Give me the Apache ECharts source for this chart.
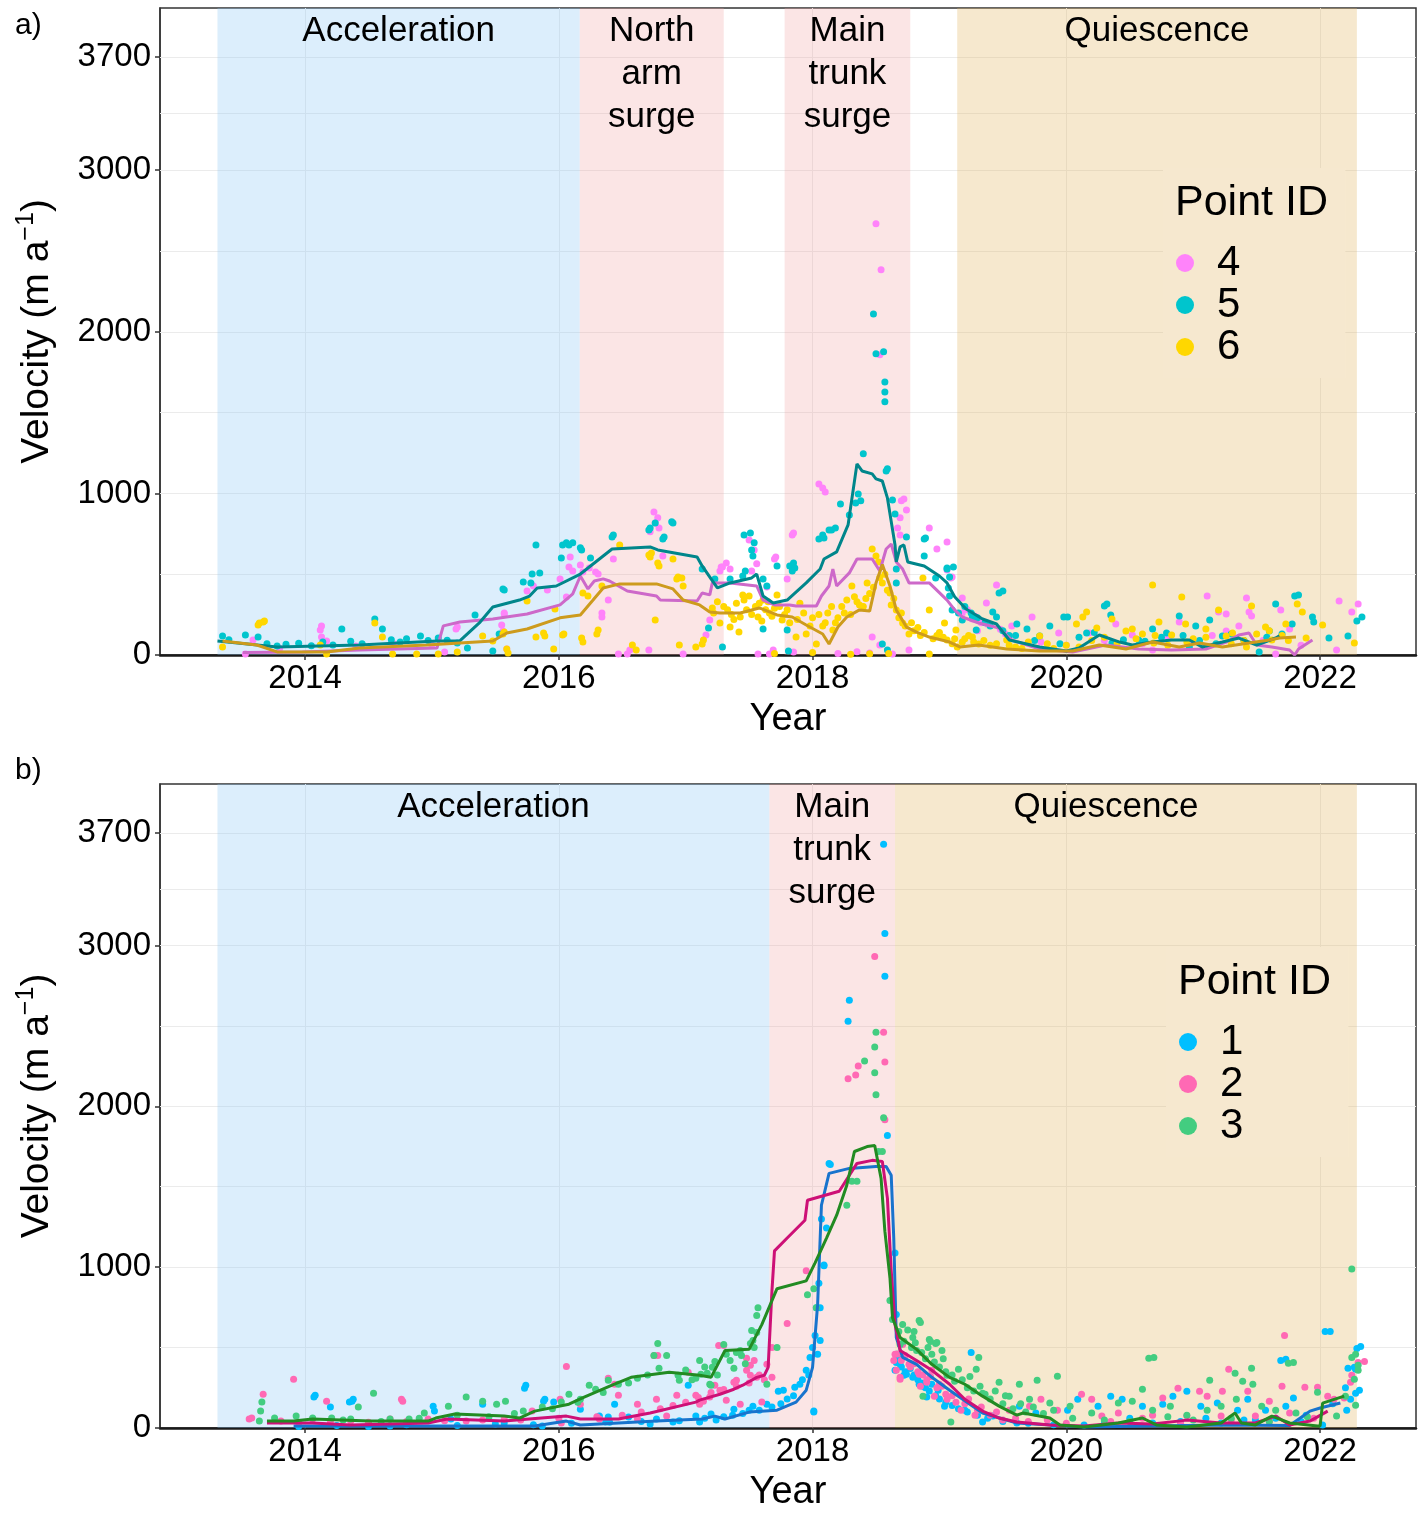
<!DOCTYPE html>
<html><head><meta charset="utf-8">
<script src="https://cdn.jsdelivr.net/npm/echarts@6/dist/echarts.min.js"></script>
<style>html,body{margin:0;padding:0;background:#fff}#c{width:1424px;height:1513px}</style>
</head><body><div id="c"></div>
<script>
// ---------- axes ----------
const X_MIN = 2012.857, X_MAX = 2022.756;
const Y_MIN = 0, Y_MAX = 4004;
const yearLabels = [2014, 2016, 2018, 2020, 2022];
const yTickLabels = [0, 1000, 2000, 3000, 3700];
const yGridValues = [500, 1000, 1500, 2000, 2500, 3000, 3350, 3700];

// ---------- phases ----------
const phaseNamesA = ['Acceleration', 'North\narm\nsurge', 'Main\ntrunk\nsurge', 'Quiescence'];
const phaseStartA = [2013.31, 2016.165, 2017.78, 2019.14];
const phaseEndA = [2016.165, 2017.30, 2018.77, 2022.29];
const phaseTypeA = ['acc', 'surge', 'surge', 'quiet'];
const phaseNamesB = ['Acceleration', 'Main\ntrunk\nsurge', 'Quiescence'];
const phaseStartB = [2013.31, 2017.66, 2018.65];
const phaseEndB = [2017.66, 2018.65, 2022.29];
const phaseTypeB = ['acc', 'surge', 'quiet'];

// ---------- panel a: point IDs 4, 5, 6 ----------
const pts4 = [[2013.53,6],[2013.59,93],[2014.12,155],[2014.13,180],[2014.13,111],[2014.17,87],[2015.10,19],[2015.19,161],[2015.20,173],[2015.56,149],[2015.57,254],[2015.57,260],[2015.55,186],[2015.59,37],[2015.75,396],[2015.80,427],[2016.01,471],[2015.91,402],[2016.06,359],[2016.08,545],[2016.09,607],[2016.11,520],[2016.17,557],[2016.19,514],[2016.24,539],[2016.31,501],[2016.29,514],[2016.34,260],[2016.34,235],[2016.39,340],[2016.43,594],[2016.47,6],[2016.54,6],[2016.56,31],[2016.71,31],[2016.72,762],[2016.75,885],[2016.76,817],[2016.78,849],[2016.79,786],[2016.82,613],[2016.98,6],[2017.16,124],[2017.19,217],[2017.27,520],[2017.28,545],[2017.29,545],[2017.32,570],[2017.35,532],[2017.50,712],[2017.52,520],[2017.54,650],[2017.56,564],[2017.57,6],[2017.64,421],[2017.66,6],[2017.69,31],[2017.71,607],[2017.70,594],[2017.80,471],[2017.84,743],[2017.85,755],[2017.85,19],[2018.05,1059],[2018.08,1034],[2018.10,1009],[2018.47,111],[2018.50,2669],[2018.53,1858],[2018.53,62],[2018.54,2384],[2018.63,6],[2018.67,786],[2018.69,849],[2018.69,743],[2018.70,954],[2018.72,966],[2018.74,898],[2018.76,31],[2018.92,786],[2018.98,656],[2019.06,700],[2019.06,526],[2019.09,477],[2019.10,483],[2019.18,353],[2019.18,260],[2019.26,223],[2019.26,235],[2019.37,322],[2019.45,433],[2019.57,180],[2019.73,235],[2019.94,136],[2020.18,136],[2020.39,192],[2020.52,124],[2020.68,31],[2020.89,204],[2021.11,365],[2021.20,266],[2021.26,254],[2021.26,149],[2021.36,180],[2021.42,353],[2021.44,266],[2021.46,241],[2021.65,6],[2021.69,279],[2021.76,161],[2022.13,31],[2022.15,334],[2022.25,266],[2022.30,316],[2019.30,150],[2019.55,110],[2019.80,80],[2020.00,60],[2020.30,90],[2020.60,70],[2020.80,110],[2021.00,90],[2021.15,120],[2021.55,90],[2021.85,60],[2013.80,40],[2014.40,55],[2014.70,70],[2015.00,60],[2018.20,10],[2018.35,20],[2018.45,12],[2019.22,280],[2019.28,240],[2019.33,200],[2019.38,190],[2019.48,160],[2019.52,130]];
const pts5 = [[2013.35,118],[2013.53,124],[2013.63,111],[2013.40,95],[2013.70,70],[2013.78,55],[2013.85,66],[2013.95,72],[2014.05,58],[2014.14,80],[2014.22,62],[2014.29,161],[2014.36,85],[2014.45,70],[2014.55,223],[2014.61,161],[2014.68,95],[2014.75,80],[2014.80,100],[2014.91,118],[2014.97,90],[2015.05,105],[2015.12,92],[2015.20,75],[2015.28,43],[2015.34,248],[2015.48,25],[2015.53,130],[2015.56,409],[2015.57,402],[2015.72,452],[2015.78,446],[2015.79,502],[2015.82,681],[2015.85,508],[2016.02,600],[2016.03,681],[2016.06,694],[2016.08,681],[2016.11,694],[2016.17,663],[2016.18,650],[2016.25,600],[2016.42,731],[2016.43,743],[2016.71,774],[2016.72,786],[2016.76,817],[2016.83,731],[2016.82,718],[2016.89,824],[2016.90,817],[2017.13,532],[2017.18,167],[2017.23,471],[2017.29,50],[2017.35,471],[2017.45,489],[2017.47,520],[2017.46,743],[2017.51,755],[2017.52,650],[2017.53,613],[2017.54,694],[2017.61,471],[2017.64,427],[2017.61,161],[2017.72,551],[2017.80,155],[2017.81,25],[2017.82,551],[2017.84,520],[2017.85,570],[2017.86,539],[2018.05,718],[2018.08,743],[2018.09,724],[2018.13,774],[2018.15,774],[2018.18,786],[2018.22,935],[2018.29,867],[2018.34,941],[2018.36,997],[2018.38,954],[2018.40,1245],[2018.48,2110],[2018.50,1864],[2018.56,1876],[2018.57,1690],[2018.57,1628],[2018.57,1567],[2018.58,1139],[2018.59,1152],[2018.63,960],[2018.65,873],[2018.66,532],[2018.66,446],[2018.55,68],[2018.59,31],[2018.74,731],[2018.88,718],[2018.88,613],[2018.89,724],[2018.97,477],[2019.06,532],[2019.06,539],[2019.07,415],[2019.08,483],[2019.08,365],[2019.10,279],[2019.11,545],[2019.15,260],[2019.18,217],[2019.26,235],[2019.29,155],[2019.42,266],[2019.45,235],[2019.47,384],[2019.50,396],[2019.61,192],[2019.69,161],[2019.79,118],[2019.87,180],[2019.98,235],[2020.01,235],[2020.16,136],[2020.30,303],[2020.32,316],[2020.35,248],[2020.36,74],[2020.57,93],[2020.68,161],[2020.79,136],[2020.89,241],[2020.97,50],[2021.02,180],[2021.13,217],[2021.23,118],[2021.52,19],[2021.60,149],[2021.65,316],[2021.78,192],[2021.80,365],[2021.83,372],[2021.94,235],[2021.95,204],[2022.07,105],[2022.22,118],[2022.29,210],[2022.33,235],[2019.60,120],[2019.75,90],[2019.95,70],[2020.10,110],[2020.22,140],[2020.45,95],[2020.62,85],[2020.75,110],[2020.92,120],[2021.05,90],[2021.18,70],[2021.30,130],[2021.40,90],[2021.58,110],[2021.70,130],[2019.20,300],[2019.25,260],[2019.30,230],[2019.36,200],[2019.40,180],[2019.50,150],[2019.55,120]];
const pts6 = [[2013.35,50],[2013.63,186],[2013.67,204],[2013.64,198],[2013.68,210],[2014.12,62],[2014.17,6],[2014.55,198],[2014.61,111],[2014.69,6],[2014.88,6],[2015.05,6],[2015.20,19],[2015.40,118],[2015.48,87],[2015.75,334],[2015.97,285],[2016.04,130],[2015.89,118],[2015.96,37],[2015.59,37],[2015.60,12],[2015.56,130],[2015.57,142],[2015.88,136],[2016.18,105],[2015.82,111],[2016.03,124],[2016.19,80],[2016.30,130],[2016.19,384],[2016.23,365],[2016.34,427],[2016.31,155],[2016.48,681],[2016.58,62],[2016.61,31],[2016.71,619],[2016.73,631],[2016.72,607],[2016.76,217],[2016.78,570],[2016.79,551],[2016.90,594],[2016.93,471],[2016.94,483],[2016.95,62],[2016.97,477],[2016.98,427],[2017.08,50],[2017.14,93],[2017.13,68],[2017.21,291],[2017.22,260],[2017.27,198],[2017.35,173],[2017.42,142],[2017.43,235],[2017.45,372],[2017.46,340],[2017.50,365],[2017.57,235],[2017.61,340],[2017.66,260],[2017.72,372],[2017.76,217],[2017.87,111],[2017.95,130],[2018.03,68],[2018.16,155],[2018.27,340],[2018.31,427],[2018.37,310],[2018.43,446],[2018.47,656],[2018.50,613],[2018.52,576],[2018.55,446],[2018.61,384],[2018.66,279],[2018.71,198],[2018.76,130],[2018.87,477],[2018.92,279],[2018.92,6],[2019.04,198],[2019.13,155],[2019.26,111],[2019.31,68],[2019.06,93],[2019.14,50],[2019.27,80],[2019.53,93],[2019.79,118],[2020.08,192],[2020.13,235],[2020.16,266],[2020.24,167],[2020.36,223],[2020.47,149],[2020.52,161],[2020.68,433],[2020.69,74],[2020.73,204],[2020.83,124],[2020.91,359],[2020.94,192],[2021.10,161],[2021.20,279],[2021.26,118],[2021.31,136],[2021.42,50],[2021.46,303],[2021.57,173],[2021.62,93],[2021.73,192],[2021.82,316],[2021.86,266],[2021.89,105],[2022.02,186],[2022.27,74],[2017.30,300],[2017.36,250],[2017.40,320],[2017.48,280],[2017.55,300],[2017.60,210],[2017.65,330],[2017.70,290],[2017.78,250],[2017.82,200],[2017.90,320],[2017.98,180],[2018.05,250],[2018.10,200],[2018.15,300],[2018.20,230],[2018.25,260],[2018.33,360],[2018.40,300],[2018.45,380],[2018.57,500],[2018.62,310],[2018.68,230],[2018.73,180],[2018.80,150],[2018.85,120],[2018.95,100],[2019.00,140],[2019.10,70],[2019.20,100],[2019.40,60],[2019.60,50],[2019.70,80],[2019.90,40],[2020.00,60],[2020.30,110],[2020.60,130],[2020.80,60],[2021.00,100],[2021.40,90],[2021.70,120],[2017.70,10],[2018.00,15],[2018.30,5],[2018.45,8],[2018.60,10],[2017.25,330],[2017.33,280],[2017.38,220],[2017.52,250],[2017.58,320],[2017.63,280],[2017.68,240],[2017.74,300],[2017.80,280],[2017.88,220],[2017.93,260],[2018.00,230],[2018.08,180],[2018.12,260],[2018.18,200],[2018.23,300],[2018.30,250],[2018.35,330],[2018.42,350],[2018.48,420],[2018.53,480],[2018.59,400],[2018.64,350],[2018.70,260],[2018.78,200],[2018.83,170],[2018.88,140],[2018.98,120],[2019.03,110],[2019.12,100],[2019.18,80],[2019.23,120],[2019.35,90],[2019.45,70],[2019.55,60],[2019.65,40],[2019.85,70],[2020.10,50],[2020.20,90],[2020.40,70],[2020.55,100],[2020.70,120],[2020.95,80],[2021.10,110],[2021.30,70],[2021.50,130],[2021.60,150],[2021.75,90]];
const line4 = [[2013.51,15],[2013.98,18],[2014.43,31],[2015.04,43],[2015.09,180],[2015.22,204],[2015.48,223],[2015.75,254],[2016.01,310],[2016.11,378],[2016.17,489],[2016.23,409],[2016.28,458],[2016.35,471],[2016.40,458],[2016.54,396],[2016.77,365],[2016.80,340],[2017.09,334],[2017.13,384],[2017.19,372],[2017.21,446],[2017.35,446],[2017.56,427],[2017.61,340],[2017.70,310],[2017.82,310],[2017.87,303],[2018.03,303],[2018.07,365],[2018.13,427],[2018.16,532],[2018.19,427],[2018.29,508],[2018.35,594],[2018.47,594],[2018.53,520],[2018.58,656],[2018.62,687],[2018.66,576],[2018.71,532],[2018.76,446],[2018.92,446],[2019.06,340],[2019.12,279],[2019.18,235],[2019.31,198],[2019.47,167],[2019.57,93],[2019.79,37],[2020.05,19],[2020.31,62],[2020.44,50],[2020.57,37],[2020.83,31],[2021.10,37],[2021.26,80],[2021.36,124],[2021.44,136],[2021.50,62],[2021.62,50],[2021.76,31],[2021.80,0],[2021.83,37],[2021.94,93]];
const line5 = [[2013.31,87],[2013.78,50],[2014.43,62],[2015.04,87],[2015.22,87],[2015.38,204],[2015.48,297],[2015.69,340],[2015.77,365],[2015.83,415],[2015.98,427],[2016.17,501],[2016.30,582],[2016.42,656],[2016.72,669],[2016.78,650],[2017.09,607],[2017.13,551],[2017.20,471],[2017.25,415],[2017.35,446],[2017.52,477],[2017.56,501],[2017.61,365],[2017.69,322],[2017.80,340],[2017.95,446],[2018.06,532],[2018.09,594],[2018.19,638],[2018.28,805],[2018.35,1183],[2018.39,1139],[2018.47,1121],[2018.50,1090],[2018.55,1077],[2018.59,972],[2018.65,681],[2018.66,576],[2018.69,669],[2018.72,681],[2018.75,576],[2018.88,551],[2019.00,489],[2019.06,446],[2019.12,360],[2019.21,285],[2019.34,223],[2019.45,192],[2019.55,93],[2019.79,50],[2020.00,25],[2020.10,43],[2020.26,124],[2020.42,80],[2020.52,62],[2020.68,80],[2020.83,93],[2020.97,93],[2021.07,50],[2021.23,80],[2021.36,105],[2021.50,62],[2021.65,105],[2021.68,118]];
const line6 = [[2013.35,87],[2013.62,62],[2013.78,19],[2014.17,19],[2014.43,43],[2014.96,62],[2015.48,87],[2015.59,136],[2015.75,161],[2016.01,230],[2016.17,248],[2016.27,340],[2016.35,415],[2016.48,440],[2016.77,440],[2016.90,409],[2016.98,340],[2017.11,310],[2017.19,266],[2017.27,260],[2017.43,260],[2017.58,291],[2017.72,248],[2017.84,235],[2017.95,186],[2018.08,130],[2018.13,68],[2018.20,173],[2018.27,235],[2018.37,279],[2018.45,272],[2018.50,446],[2018.55,560],[2018.61,427],[2018.66,279],[2018.74,173],[2018.82,142],[2018.92,111],[2019.08,80],[2019.16,50],[2019.31,62],[2019.53,37],[2019.79,25],[2020.05,25],[2020.26,62],[2020.47,37],[2020.68,80],[2020.89,50],[2021.05,74],[2021.23,50],[2021.44,74],[2021.60,93],[2021.68,105],[2021.81,111]];

// ---------- panel b: point IDs 1, 2, 3 ----------
const pts1 = [[2014.07,192],[2014.20,130],[2014.35,161],[2014.37,167],[2015.01,136],[2015.02,105],[2015.15,56],[2015.40,148],[2015.73,247],[2015.88,167],[2015.96,161],[2016.44,148],[2016.17,117],[2016.32,74],[2016.77,56],[2017.08,74],[2017.20,87],[2017.38,117],[2017.53,136],[2015.57,31],[2014.67,12],[2015.87,12],[2014.08,204],[2014.38,179],[2015.74,266],[2015.89,179],[2017.02,266],[2017.77,235],[2017.73,229],[2016.39,68],[2016.37,37],[2016.55,68],[2016.72,25],[2016.90,37],[2017.11,37],[2017.24,49],[2017.37,80],[2017.50,111],[2017.64,148],[2017.86,254],[2017.90,272],[2017.95,359],[2017.98,439],[2018.02,575],[2018.03,748],[2018.04,458],[2018.06,544],[2018.06,748],[2018.09,1014],[2018.11,1243],[2018.09,1008],[2018.13,1645],[2018.14,1639],[2018.01,99],[2018.01,105],[2018.29,2659],[2018.28,2529],[2018.56,3630],[2018.57,3074],[2018.57,2808],[2018.59,1818],[2018.65,1088],[2018.66,705],[2018.66,458],[2018.69,396],[2018.74,334],[2018.79,315],[2018.84,272],[2018.90,192],[2018.94,272],[2018.99,235],[2018.66,408],[2018.65,359],[2018.72,328],[2018.87,260],[2019.04,136],[2019.20,111],[2019.25,470],[2019.42,74],[2019.63,136],[2019.76,93],[2020.01,111],[2020.09,179],[2020.25,136],[2020.35,198],[2020.44,179],[2020.60,136],[2020.76,148],[2020.84,198],[2020.95,229],[2021.06,136],[2021.19,155],[2021.35,111],[2021.43,179],[2021.57,111],[2021.69,420],[2021.73,136],[2021.73,427],[2021.79,186],[2021.89,80],[2022.02,19],[2022.04,600],[2022.08,600],[2022.21,111],[2022.22,371],[2022.24,179],[2022.27,377],[2022.28,365],[2022.28,216],[2022.29,495],[2022.31,235],[2022.32,507],[2021.49,49],[2021.22,31],[2020.68,31],[2020.14,19],[2019.61,31],[2019.34,37],[2017.15,60],[2017.30,70],[2017.45,90],[2017.58,110],[2017.68,130],[2017.75,150],[2017.80,180],[2017.85,200],[2017.92,300],[2017.97,330],[2018.00,500],[2018.05,900],[2018.07,1300],[2013.95,10],[2014.25,15],[2014.50,10],[2014.80,20],[2015.20,15],[2015.50,25],[2015.80,20],[2016.10,30],[2016.40,35],[2016.65,40],[2016.95,45],[2018.68,430],[2018.70,380],[2018.73,350],[2018.77,370],[2018.80,330],[2018.83,300],[2018.86,280],[2018.89,250],[2018.92,230],[2018.97,200],[2019.00,180],[2019.05,160],[2019.10,140],[2019.15,120],[2019.22,100],[2019.30,80],[2019.38,60],[2019.50,40],[2019.70,30],[2019.90,20],[2020.30,30],[2020.50,60],[2020.90,40],[2021.10,60],[2021.40,50],[2021.65,60],[2021.85,40],[2022.10,150],[2022.20,250]];
const pts2 = [[2013.56,56],[2013.58,62],[2013.67,210],[2013.91,303],[2014.17,167],[2014.76,179],[2014.77,167],[2016.06,383],[2016.75,451],[2016.78,451],[2017.26,513],[2017.30,513],[2017.48,433],[2017.51,390],[2015.79,105],[2016.01,179],[2016.17,148],[2016.47,204],[2016.62,148],[2016.77,179],[2016.93,204],[2017.08,204],[2017.23,266],[2017.38,284],[2017.51,328],[2017.54,420],[2016.39,309],[2016.44,272],[2017.02,346],[2017.14,167],[2016.85,74],[2016.62,56],[2016.32,56],[2016.02,31],[2015.57,56],[2015.27,43],[2014.97,56],[2014.67,56],[2014.36,43],[2014.06,56],[2013.81,43],[2017.80,649],[2017.95,977],[2017.68,501],[2017.64,396],[2017.56,315],[2017.48,359],[2017.40,297],[2017.43,148],[2017.32,173],[2017.27,235],[2017.19,192],[2017.11,148],[2017.60,161],[2017.68,315],[2018.49,2931],[2018.56,2461],[2018.36,2251],[2018.57,2276],[2018.34,2195],[2018.28,2171],[2018.57,1917],[2018.65,458],[2018.66,359],[2018.69,315],[2018.76,396],[2018.84,334],[2018.90,284],[2018.94,359],[2019.00,272],[2018.71,519],[2018.64,420],[2018.69,303],[2018.85,260],[2018.96,198],[2019.06,179],[2019.17,111],[2019.28,80],[2019.50,49],[2019.55,111],[2019.71,136],[2019.80,179],[2019.93,111],[2020.12,210],[2020.20,179],[2020.28,74],[2020.41,93],[2020.68,80],[2020.76,186],[2020.88,247],[2020.95,74],[2021.05,229],[2021.11,198],[2021.22,74],[2021.23,229],[2021.28,365],[2021.43,229],[2021.49,74],[2021.60,167],[2021.70,260],[2021.72,575],[2021.76,93],[2021.88,254],[2021.98,254],[2022.06,198],[2022.11,179],[2022.19,186],[2022.24,284],[2022.25,328],[2022.30,408],[2022.35,414],[2018.67,460],[2018.70,420],[2018.73,450],[2018.77,380],[2018.80,400],[2018.83,350],[2018.87,330],[2018.90,300],[2018.93,320],[2018.98,250],[2019.02,260],[2019.05,210],[2019.10,200],[2019.13,160],[2019.20,150],[2019.23,180],[2019.30,110],[2019.33,130],[2019.40,80],[2019.45,100],[2019.60,60],[2019.70,40],[2019.85,50],[2020.00,30],[2020.35,40],[2020.60,60],[2020.90,30],[2021.30,50],[2021.60,40],[2021.95,60],[2016.50,80],[2016.65,100],[2016.80,120],[2016.90,140],[2017.00,160],[2017.10,190],[2017.20,220],[2017.30,240],[2017.40,260],[2017.50,280],[2017.58,330],[2017.62,300],[2016.30,70],[2016.00,60],[2015.70,50],[2015.40,50],[2015.10,45],[2014.80,40],[2014.50,35],[2014.20,40],[2013.95,35]];
const pts3 = [[2013.64,43],[2013.65,105],[2013.66,161],[2013.76,62],[2013.93,74],[2014.06,62],[2014.21,62],[2014.36,56],[2014.42,130],[2014.54,216],[2014.67,56],[2014.82,56],[2014.94,93],[2015.13,136],[2015.27,192],[2015.40,167],[2015.51,148],[2015.58,167],[2015.72,105],[2015.87,130],[2016.02,161],[2016.08,210],[2016.17,179],[2016.24,266],[2016.29,241],[2016.39,297],[2016.47,272],[2016.62,309],[2016.75,451],[2016.78,526],[2016.79,371],[2016.85,451],[2016.94,328],[2016.95,297],[2017.08,309],[2017.11,420],[2017.12,334],[2017.17,340],[2017.19,272],[2017.20,266],[2017.21,377],[2017.23,414],[2017.30,519],[2017.32,458],[2017.38,371],[2017.43,482],[2017.44,451],[2017.51,526],[2017.52,606],[2017.53,544],[2017.54,501],[2017.56,594],[2017.57,748],[2017.56,699],[2017.64,272],[2017.72,501],[2017.96,829],[2018.01,866],[2018.03,748],[2018.27,1385],[2018.31,1534],[2018.35,1534],[2018.41,2282],[2018.49,2369],[2018.49,2208],[2018.50,2461],[2018.50,2072],[2018.52,1719],[2018.55,1719],[2018.56,1929],[2018.61,792],[2018.63,674],[2018.69,519],[2018.71,643],[2018.79,563],[2018.80,600],[2018.82,482],[2018.84,668],[2018.85,656],[2018.87,198],[2018.92,551],[2018.93,538],[2018.94,458],[2018.97,526],[2018.98,532],[2019.02,482],[2019.06,328],[2019.09,37],[2019.15,365],[2019.29,365],[2019.31,439],[2019.34,216],[2019.47,284],[2019.55,198],[2019.63,272],[2019.71,179],[2019.77,297],[2019.87,155],[2019.93,322],[2020.03,136],[2020.20,93],[2020.41,155],[2020.52,167],[2020.60,241],[2020.65,433],[2020.69,439],[2020.68,111],[2020.82,136],[2020.95,80],[2021.11,111],[2021.13,297],[2021.22,136],[2021.33,340],[2021.34,179],[2021.39,291],[2021.46,371],[2021.47,272],[2021.54,136],[2021.65,111],[2021.75,402],[2021.79,408],[2021.81,93],[2021.98,223],[2022.13,74],[2022.20,198],[2022.25,439],[2022.25,989],[2022.27,303],[2022.28,458],[2022.28,142],[2022.30,390],[2022.30,359],[2018.68,600],[2018.72,540],[2018.75,610],[2018.78,500],[2018.81,530],[2018.86,470],[2018.89,430],[2018.91,500],[2018.96,410],[2019.00,380],[2019.03,430],[2019.05,350],[2019.10,330],[2019.12,290],[2019.18,300],[2019.22,250],[2019.24,320],[2019.27,230],[2019.32,260],[2019.36,210],[2019.40,180],[2019.44,230],[2019.50,150],[2019.52,200],[2019.58,120],[2019.64,150],[2019.68,100],[2019.74,130],[2019.82,90],[2019.90,110],[2020.05,60],[2020.30,50],[2020.50,40],[2020.80,70],[2021.00,50],[2021.30,60],[2021.60,40],[2021.90,70],[2017.00,360],[2017.05,300],[2017.15,380],[2017.25,330],[2017.35,420],[2017.40,470],[2017.47,400],[2014.30,50],[2014.60,40],[2014.90,60],[2015.20,80],[2015.45,70],[2015.65,90],[2015.95,120],[2016.15,160],[2016.35,220],[2016.55,280],[2016.70,330]];
const line1 = [[2013.91,12],[2014.97,12],[2015.81,12],[2016.06,43],[2016.17,19],[2016.77,43],[2017.13,56],[2017.23,74],[2017.31,56],[2017.50,99],[2017.72,111],[2017.87,161],[2017.95,235],[2018.00,377],[2018.04,767],[2018.07,1385],[2018.13,1583],[2018.29,1614],[2018.50,1626],[2018.58,1626],[2018.62,1571],[2018.64,1181],[2018.66,563],[2018.71,439],[2018.82,396],[2018.94,315],[2019.08,235],[2019.20,170],[2019.34,93],[2019.61,31],[2020.14,6],[2020.68,12],[2021.22,19],[2021.76,15],[2021.92,105],[2022.00,124],[2022.16,155]];
const line2 = [[2013.70,31],[2014.06,31],[2014.36,19],[2014.97,31],[2015.12,56],[2015.57,43],[2016.06,74],[2016.17,56],[2016.47,56],[2016.72,93],[2017.08,161],[2017.11,173],[2017.27,210],[2017.38,241],[2017.45,266],[2017.56,315],[2017.62,328],[2017.65,377],[2017.68,853],[2017.70,1101],[2017.80,1181],[2017.94,1292],[2017.96,1416],[2018.21,1472],[2018.35,1645],[2018.47,1664],[2018.55,1657],[2018.59,1429],[2018.62,977],[2018.65,643],[2018.69,482],[2018.82,420],[2018.94,359],[2019.08,272],[2019.20,179],[2019.34,105],[2019.47,62],[2019.61,37],[2019.87,19],[2020.14,12],[2020.41,31],[2020.68,25],[2020.95,49],[2021.22,31],[2021.49,31],[2021.65,74],[2021.76,19],[2021.92,43],[2022.06,105]];
const line3 = [[2013.70,43],[2013.91,43],[2014.06,56],[2014.51,43],[2014.97,43],[2015.03,62],[2015.18,87],[2015.57,74],[2015.69,62],[2015.81,105],[2016.08,148],[2016.20,192],[2016.42,266],[2016.57,315],[2016.87,346],[2016.95,340],[2017.11,328],[2017.20,315],[2017.31,482],[2017.50,489],[2017.60,643],[2017.68,792],[2017.72,866],[2017.95,915],[2018.02,1027],[2018.11,1181],[2018.19,1323],[2018.27,1509],[2018.33,1719],[2018.43,1750],[2018.49,1756],[2018.54,1552],[2018.57,1224],[2018.61,934],[2018.63,686],[2018.69,563],[2018.82,489],[2018.94,396],[2019.08,315],[2019.20,272],[2019.34,198],[2019.47,136],[2019.61,80],[2019.66,93],[2019.87,62],[2019.95,19],[2020.14,6],[2020.41,31],[2020.60,62],[2020.71,19],[2020.95,6],[2021.22,31],[2021.33,93],[2021.38,31],[2021.49,19],[2021.62,74],[2021.76,31],[2021.98,12],[2022.00,12],[2022.02,155],[2022.19,198]];

// ---------- styling ----------
const FONT = 'Liberation Sans, Arial, sans-serif';
const phaseColor = { acc: 'rgba(140,198,246,0.30)', surge: 'rgba(242,160,160,0.28)', quiet: 'rgba(226,184,104,0.32)' };
const GRID_TOPS = [8, 784];
const GRID_H = 647;
const plainNum = v => String(v);

function phaseArea(names, starts, ends, types, offsets) {
  return names.map((n, i) => [
    { name: n, xAxis: starts[i], itemStyle: { color: phaseColor[types[i]] },
      label: { offset: offsets ? offsets[i] : [0, 0] } },
    { xAxis: ends[i] }
  ]);
}

const grids = [0, 1].map(i => ({
  left: 160, top: GRID_TOPS[i], width: 1256, height: GRID_H,
  show: true, borderColor: '#333', borderWidth: 1.5, backgroundColor: 'transparent'
}));

const xAxes = [0, 1].map(i => ({
  type: 'value', gridIndex: i, min: X_MIN, max: X_MAX,
  splitNumber: 10, minInterval: 1, maxInterval: 1,
  axisLine: { show: true, onZero: false, lineStyle: { color: '#1a1a1a', width: 2.5 } },
  axisTick: { show: true, customValues: yearLabels, length: 5, lineStyle: { color: '#333', width: 1.5 } },
  axisLabel: { customValues: yearLabels, formatter: plainNum, fontSize: 33, color: '#000', margin: 7, fontFamily: FONT },
  splitLine: { show: true, lineStyle: { color: '#ebebeb', width: 1 } },
  name: 'Year', nameLocation: 'middle', nameGap: 46,
  nameTextStyle: { fontSize: 38, color: '#000', fontFamily: FONT }
}));

const yAxes = [0, 1].map(i => ({
  type: 'value', gridIndex: i, min: Y_MIN, max: Y_MAX,
  axisLine: { show: true, onZero: false, lineStyle: { color: '#333', width: 1.5 } },
  axisTick: { show: true, customValues: yTickLabels, length: 5, lineStyle: { color: '#333', width: 1.5 } },
  axisLabel: { customValues: yTickLabels, formatter: plainNum, fontSize: 33, color: '#000', margin: 9, fontFamily: FONT },
  splitLine: { show: false },
  name: '{n|Velocity (m a}{s|−1}{n|)}', nameLocation: 'middle', nameGap: 100, nameRotate: 90,
  nameTextStyle: {
    color: '#000', fontFamily: FONT,
    rich: {
      n: { fontSize: 39, color: '#000', fontFamily: FONT, lineHeight: 46 },
      s: { fontSize: 25, color: '#000', fontFamily: FONT, verticalAlign: 'top', lineHeight: 26 }
    }
  }
}));

function gridLineSeries(i) {
  return {
    type: 'lines', coordinateSystem: 'cartesian2d', xAxisIndex: i, yAxisIndex: i,
    silent: true, z: 0.5, polyline: false, symbol: 'none',
    lineStyle: { color: '#ebebeb', width: 1, opacity: 1 },
    data: yGridValues.map(v => ({ coords: [[X_MIN, v], [X_MAX, v]] })),
    animation: false
  };
}

function phaseSeries(i, areas) {
  return {
    type: 'scatter', name: 'phases' + i, xAxisIndex: i, yAxisIndex: i, data: [], silent: true,
    markArea: {
      silent: true,
      label: { show: true, position: 'insideTop', distance: 2, fontSize: 35, lineHeight: 43,
               color: '#000', fontFamily: FONT, align: 'center' },
      data: areas
    }
  };
}

function ptSeries(name, data, color, i) {
  return { type: 'scatter', name, data, xAxisIndex: i, yAxisIndex: i, symbol: 'circle',
           symbolSize: 7, itemStyle: { color, opacity: 1 }, z: 2 };
}
function lnSeries(name, data, color, i) {
  return { type: 'line', name, data, xAxisIndex: i, yAxisIndex: i, showSymbol: false, symbol: 'none',
           lineStyle: { color, width: 3 }, itemStyle: { color }, z: 3, smooth: false };
}

const legendBase = {
  orient: 'vertical', icon: 'circle', itemWidth: 18, itemHeight: 18, itemGap: 0,
  backgroundColor: '#f6e8cf', selectedMode: false,
  padding: [74, 105, 10, 13],
  formatter: '{t|{name}}',
  textStyle: { fontSize: 42, color: '#000', fontFamily: FONT,
    rich: { t: { fontSize: 42, lineHeight: 40, padding: [0, 0, 0, 18], color: '#000', fontFamily: FONT } } }
};

const option = {
  animation: false,
  textStyle: { fontFamily: FONT },
  grid: grids,
  xAxis: xAxes,
  yAxis: yAxes,
  title: [
    { text: 'a)', left: 10, top: 6, textStyle: { fontSize: 30, fontWeight: 'normal', color: '#000', fontFamily: FONT } },
    { text: 'b)', left: 10, top: 751, textStyle: { fontSize: 30, fontWeight: 'normal', color: '#000', fontFamily: FONT } },
    { text: 'Point ID', left: 1170, top: 177, textStyle: { fontSize: 43, fontWeight: 'normal', color: '#000', fontFamily: FONT } },
    { text: 'Point ID', left: 1173, top: 956, textStyle: { fontSize: 43, fontWeight: 'normal', color: '#000', fontFamily: FONT } }
  ],
  legend: [
    Object.assign({}, legendBase, { left: 1163, top: 168, data: ['4', '5', '6'] }),
    Object.assign({}, legendBase, { left: 1166, top: 947, data: ['1', '2', '3'] })
  ],
  series: [
    gridLineSeries(0), gridLineSeries(1),
    phaseSeries(0, phaseArea(phaseNamesA, phaseStartA, phaseEndA, phaseTypeA)),
    phaseSeries(1, phaseArea(phaseNamesB, phaseStartB, phaseEndB, phaseTypeB, [[0,0],[0,0],[-20,0]])),
    ptSeries('4', pts4, '#ff83fa', 0),
    ptSeries('5', pts5, '#00c5cd', 0),
    ptSeries('6', pts6, '#ffd700', 0),
    lnSeries('4 trend', line4, '#cd69c9', 0),
    lnSeries('5 trend', line5, '#00868b', 0),
    lnSeries('6 trend', line6, '#cd9b1d', 0),
    ptSeries('1', pts1, '#00bfff', 1),
    ptSeries('2', pts2, '#ff69b4', 1),
    ptSeries('3', pts3, '#43cd80', 1),
    lnSeries('1 trend', line1, '#1874cd', 1),
    lnSeries('2 trend', line2, '#cd1076', 1),
    lnSeries('3 trend', line3, '#228b22', 1)
  ]
};

const chart = echarts.init(document.getElementById('c'), null, { renderer: 'canvas' });
chart.setOption(option);
</script></body></html>
